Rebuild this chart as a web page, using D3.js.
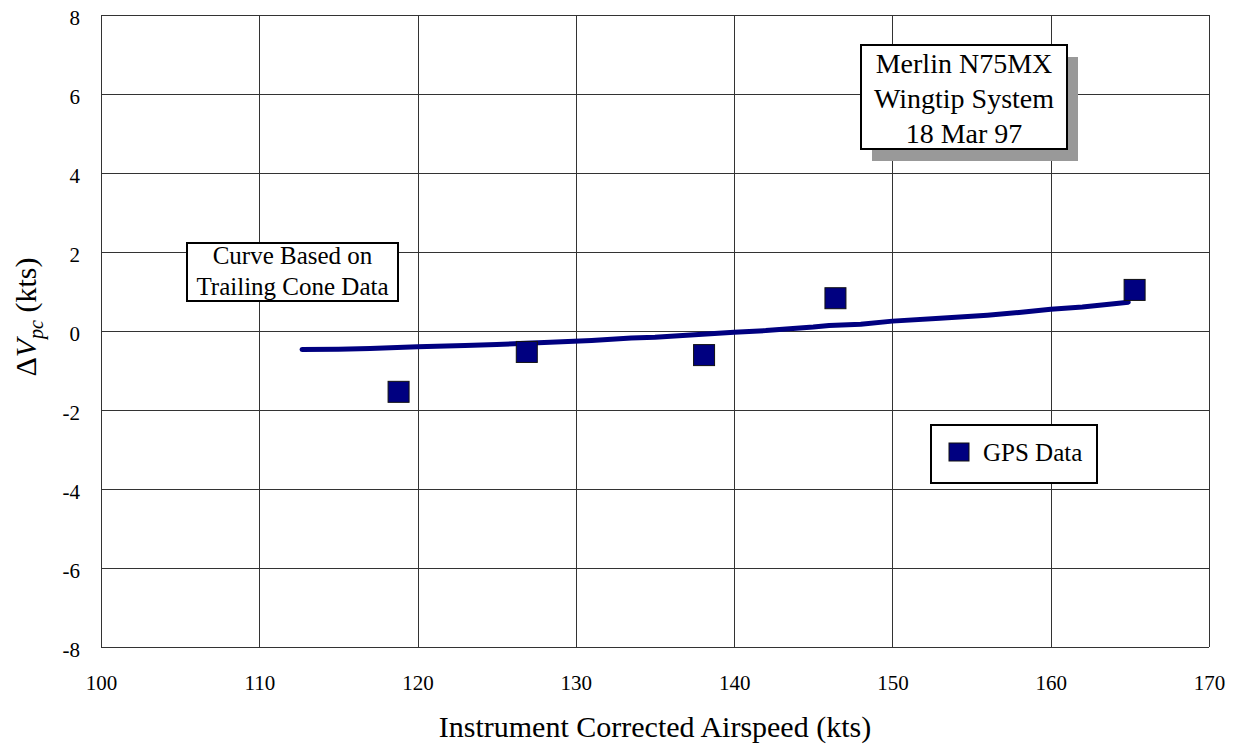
<!DOCTYPE html>
<html>
<head>
<meta charset="utf-8">
<script src="https://cdn.jsdelivr.net/npm/d3@7/dist/d3.min.js"></script>
<style>
  html, body { margin: 0; padding: 0; background: #fff; }
  svg { display: block; font-family: "Liberation Serif", "Times New Roman", serif; }
</style>
</head>
<body>
<svg id="chart" width="1237" height="746"></svg>
<script>
// GPS measurements: instrument corrected airspeed (kts) and position error (kts)
const gpsSpeed = [118.8, 126.9, 138.1, 146.4, 165.3];
const gpsDelta = [-1.54, -0.53, -0.61, 0.83, 1.04];

// Trailing-cone calibration curve
const coneSpeed = [112.7, 115, 117, 120, 123, 125, 128, 131, 133.5, 135, 138, 140, 142, 145, 146, 148, 150, 153, 156, 158, 160, 162, 164, 164.9];
const coneDelta = [-0.47, -0.46, -0.44, -0.40, -0.37, -0.34, -0.29, -0.24, -0.18, -0.16, -0.08, -0.03, 0.01, 0.10, 0.14, 0.17, 0.25, 0.32, 0.40, 0.47, 0.55, 0.61, 0.69, 0.73];

const xTicks = [100, 110, 120, 130, 140, 150, 160, 170];
const yTicks = [-8, -6, -4, -2, 0, 2, 4, 6, 8];

const titleLines = ["Merlin N75MX", "Wingtip System", "18 Mar 97"];
const curveNoteLines = ["Curve Based on", "Trailing Cone Data"];
const legendLabel = "GPS Data";

const svg = d3.select("#chart");
const plot = { left: 101, right: 1209, top: 15, bottom: 647 };

const x = d3.scaleLinear().domain([100, 170]).range([plot.left, plot.right]);
const y = d3.scaleLinear().domain([-8, 8]).range([plot.bottom, plot.top]);

const navy = "#000080";
const gridColor = "#333";

// Gridlines (the outer ones form the plot frame)
svg.append("g")
  .selectAll("line")
  .data(xTicks)
  .join("line")
  .attr("x1", d => Math.round(x(d)) + 0.5).attr("x2", d => Math.round(x(d)) + 0.5)
  .attr("y1", plot.top).attr("y2", plot.bottom)
  .attr("stroke", gridColor).attr("stroke-width", 1);

svg.append("g")
  .selectAll("line")
  .data(yTicks)
  .join("line")
  .attr("y1", d => Math.round(y(d)) + 0.5).attr("y2", d => Math.round(y(d)) + 0.5)
  .attr("x1", plot.left).attr("x2", plot.right)
  .attr("stroke", gridColor).attr("stroke-width", 1);

// Tick labels (plain hyphen for negatives)
const fmt = d => String(d);
const xAxis = d3.axisBottom(x).tickValues(xTicks).tickSize(0).tickPadding(0).tickFormat(fmt);
const gx = svg.append("g").attr("transform", `translate(0,${plot.bottom + 28})`).call(xAxis);
gx.select(".domain").remove();
gx.selectAll("text").attr("font-size", 21).attr("fill", "#000")
  .attr("font-family", "Liberation Serif, Times New Roman, serif");

const yAxis = d3.axisLeft(y).tickValues(yTicks).tickSize(0).tickPadding(0).tickFormat(fmt);
const gy = svg.append("g").attr("transform", `translate(${plot.left - 21},3)`).call(yAxis);
gy.select(".domain").remove();
gy.selectAll("text").attr("font-size", 21).attr("fill", "#000")
  .attr("font-family", "Liberation Serif, Times New Roman, serif");

// Axis titles
svg.append("text")
  .attr("x", 655)
  .attr("y", 737)
  .attr("text-anchor", "middle")
  .attr("font-size", 30)
  .text("Instrument Corrected Airspeed (kts)");

const yTitle = svg.append("text")
  .attr("transform", `translate(36,317) rotate(-90)`)
  .attr("text-anchor", "middle")
  .attr("font-size", 30);
yTitle.append("tspan").text("\u0394");
yTitle.append("tspan").attr("font-style", "italic").text("V");
yTitle.append("tspan").attr("font-style", "italic").attr("font-size", 20).attr("dy", 7).text("pc");
yTitle.append("tspan").attr("dy", -7).text(" (kts)");

// Trailing-cone curve
const line = d3.line().x(d => x(d[0])).y(d => y(d[1]));
svg.append("path")
  .datum(d3.zip(coneSpeed, coneDelta))
  .attr("d", line)
  .attr("fill", "none")
  .attr("stroke", navy)
  .attr("stroke-width", 5)
  .attr("stroke-linecap", "round")
  .attr("stroke-linejoin", "round");

// GPS markers
const ms = 21;
svg.append("g")
  .selectAll("rect")
  .data(d3.zip(gpsSpeed, gpsDelta))
  .join("rect")
  .attr("x", d => x(d[0]) - ms / 2)
  .attr("y", d => y(d[1]) - ms / 2)
  .attr("width", ms).attr("height", ms)
  .attr("fill", navy)
  .attr("stroke", "#111").attr("stroke-width", 1);

// Title box with drop shadow
const tb = { x: 861, y: 45, w: 206, h: 104 };
svg.append("rect")
  .attr("x", tb.x + 11).attr("y", tb.y + 12)
  .attr("width", tb.w).attr("height", tb.h)
  .attr("fill", "#999");
svg.append("rect")
  .attr("x", tb.x).attr("y", tb.y)
  .attr("width", tb.w).attr("height", tb.h)
  .attr("fill", "#fff").attr("stroke", "#000").attr("stroke-width", 2);
svg.append("text")
  .attr("text-anchor", "middle")
  .attr("font-size", 28)
  .selectAll("tspan")
  .data(titleLines)
  .join("tspan")
  .attr("x", tb.x + tb.w / 2)
  .attr("y", (d, i) => tb.y + 28 + i * 35)
  .text(d => d);

// Curve annotation box
const cb = { x: 187, y: 243, w: 211, h: 58 };
svg.append("rect")
  .attr("x", cb.x).attr("y", cb.y)
  .attr("width", cb.w).attr("height", cb.h)
  .attr("fill", "#fff").attr("stroke", "#000").attr("stroke-width", 2);
svg.append("text")
  .attr("text-anchor", "middle")
  .attr("font-size", 25)
  .selectAll("tspan")
  .data(curveNoteLines)
  .join("tspan")
  .attr("x", cb.x + cb.w / 2)
  .attr("y", (d, i) => cb.y + 21 + i * 31)
  .text(d => d);

// Legend
const lg = { x: 931, y: 425, w: 166, h: 58 };
svg.append("rect")
  .attr("x", lg.x).attr("y", lg.y)
  .attr("width", lg.w).attr("height", lg.h)
  .attr("fill", "#fff").attr("stroke", "#000").attr("stroke-width", 2);
svg.append("rect")
  .attr("x", lg.x + 18).attr("y", lg.y + 18)
  .attr("width", 20).attr("height", 18)
  .attr("fill", navy).attr("stroke", "#111").attr("stroke-width", 1);
svg.append("text")
  .attr("x", lg.x + 52).attr("y", lg.y + 36)
  .attr("font-size", 25)
  .text(legendLabel);
</script>
</body>
</html>
